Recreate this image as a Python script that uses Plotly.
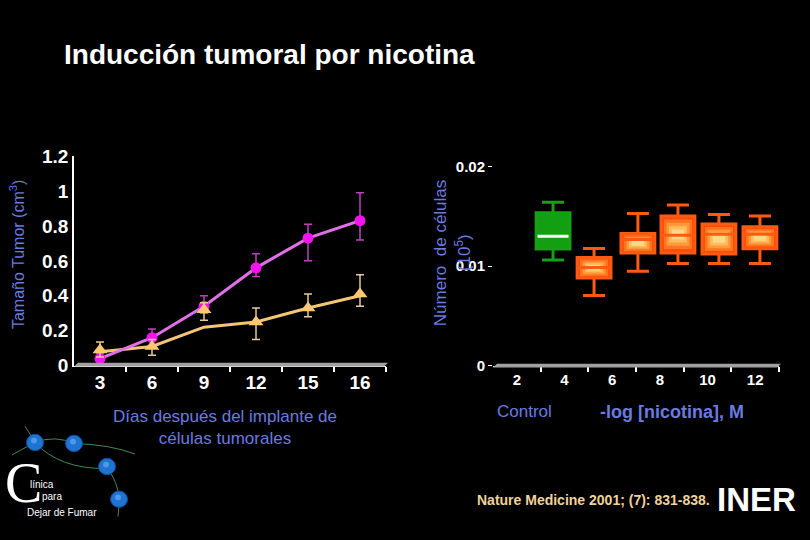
import plotly.graph_objects as go

# ---------------- data ----------------
days = ["3", "6", "9", "12", "15", "16"]
nic_mean = [0.04, 0.16, 0.34, 0.56, 0.73, 0.83]
nic_err_plus = [0.03, 0.05, 0.06, 0.08, 0.08, 0.16]
nic_err_minus = [0.04, 0.05, 0.04, 0.05, 0.13, 0.11]

ctrl_line = [0.08, 0.11, 0.22, 0.25, 0.33, 0.40]
ctrl_mean = [0.09, 0.11, 0.32, 0.25, 0.33, 0.41]
ctrl_err_plus = [0.045, 0.04, 0.04, 0.08, 0.08, 0.11]
ctrl_err_minus = [0.04, 0.05, 0.06, 0.10, 0.05, 0.07]

conc_labels = ["2", "4", "6", "8", "10", "12"]
box_pos = [0.76, 1.62, 2.54, 3.38, 4.24, 5.10]
box_upper = [0.01641, 0.01178, 0.01528, 0.01615, 0.01518, 0.01505]
box_q3 = [0.01537, 0.01087, 0.01327, 0.01505, 0.01424, 0.01395]
box_med = [0.01300, 0.00987, 0.01269, 0.01310, 0.01320, 0.01320]
box_q1 = [0.01172, 0.00880, 0.01133, 0.01133, 0.01123, 0.01175]
box_lower = [0.01061, 0.00706, 0.00948, 0.01026, 0.01026, 0.01026]

W, H = 810, 540


def P(x, y):
    return x / W, 1 - y / H


BLUE = "#6a7be0"
FONT = "Liberation Sans, Arial, sans-serif"

fig = go.Figure()

# ---------------- left chart ----------------
idx = list(range(len(days)))
fig.add_trace(go.Scatter(x=idx, y=ctrl_line, mode="lines",
                         line=dict(color="#f5c474", width=3),
                         xaxis="x", yaxis="y", hoverinfo="skip"))
fig.add_trace(go.Scatter(x=idx, y=nic_mean, mode="lines+markers",
                         line=dict(color="#e070e6", width=3),
                         marker=dict(color="#f414f0", size=11),
                         error_y=dict(type="data", symmetric=False, array=nic_err_plus,
                                      arrayminus=nic_err_minus, color="#b844b8",
                                      thickness=1.5, width=4),
                         xaxis="x", yaxis="y"))
fig.add_trace(go.Scatter(x=idx, y=ctrl_mean, mode="markers",
                         marker=dict(color="#ffc870", size=13, symbol="triangle-up"),
                         error_y=dict(type="data", symmetric=False, array=ctrl_err_plus,
                                      arrayminus=ctrl_err_minus, color="#e8c898",
                                      thickness=1.5, width=4),
                         xaxis="x", yaxis="y"))

# ---------------- right chart (box plots) ----------------
bw = 0.71
orange_layers = [(1.0, "#ff4a0a"), (0.80, "#ff7420"), (0.62, "#ff9a3a"),
                 (0.44, "#ffbc5c"), (0.26, "#ffd886")]
for i, pos in enumerate(box_pos):
    c = (box_q1[i] + box_q3[i]) / 2
    h = (box_q3[i] - box_q1[i]) / 2
    if i == 0:
        layers = [(1.0, "#12a012")]
        edge = "#16a016"
    else:
        layers = orange_layers
        edge = "#ff5a12"
    for f, col in layers:
        lo, hi = c - h * f, c + h * f
        fig.add_trace(go.Box(x=[pos], q1=[lo], median=[c], q3=[hi],
                             lowerfence=[lo], upperfence=[hi],
                             width=bw * (1 - (1 - f) * 0.85), fillcolor=col,
                             line=dict(width=0), boxpoints=False,
                             xaxis="x2", yaxis="y2", hoverinfo="skip"))
    fig.add_trace(go.Box(x=[pos], q1=[box_q1[i]], median=[box_med[i]], q3=[box_q3[i]],
                         lowerfence=[box_lower[i]], upperfence=[box_upper[i]],
                         width=bw, whiskerwidth=0.65, fillcolor="rgba(0,0,0,0)",
                         line=dict(color=edge, width=3), boxpoints=False,
                         xaxis="x2", yaxis="y2"))

# white median for the control box
fig.add_trace(go.Scatter(x=[box_pos[0] - bw / 2 + 0.03, box_pos[0] + bw / 2 - 0.03],
                         y=[box_med[0], box_med[0]], mode="lines",
                         line=dict(color="white", width=3),
                         xaxis="x2", yaxis="y2", hoverinfo="skip"))

tickfont_l = dict(family=FONT, size=19, color="white", weight="bold")
tickfont_r = dict(family=FONT, size=15, color="white", weight="bold")

fig.update_layout(
    width=W, height=H, margin=dict(l=0, r=0, t=0, b=0),
    paper_bgcolor="black", plot_bgcolor="black", showlegend=False,
    boxmode="overlay",
    xaxis=dict(domain=[74 / W, 386 / W], range=[-0.5, 5.5], anchor="y",
               tickmode="array", tickvals=idx, ticktext=days, ticks="",
               minor=dict(tickmode="array", tickvals=[i + 0.5 for i in idx],
                          ticks="outside", ticklen=5, tickcolor="white", tickwidth=1.5),
               showline=True, linecolor="white", linewidth=1,
               showgrid=False, zeroline=False, tickfont=tickfont_l),
    yaxis=dict(domain=[1 - 370 / H, 1 - 152 / H], range=[0, 1.2], dtick=0.2,
               anchor="x", showline=True, linecolor="white", linewidth=1.5,
               ticks="", showgrid=False, zeroline=False, tickfont=tickfont_l),
    xaxis2=dict(domain=[493 / W, 779 / W], range=[-0.5, 5.5], anchor="y2",
                tickmode="array", tickvals=list(range(len(conc_labels))),
                ticktext=conc_labels, ticks="",
                minor=dict(tickmode="array",
                           tickvals=[i + 0.5 for i in range(len(conc_labels))],
                           ticks="outside", ticklen=5, tickcolor="white", tickwidth=1.5),
                showline=True, linecolor="white", linewidth=1,
                showgrid=False, zeroline=False, tickfont=tickfont_r),
    yaxis2=dict(domain=[1 - 370 / H, 1 - 163 / H], range=[0, 0.02], anchor="x2",
                tickmode="array", tickvals=[0, 0.01, 0.02], ticktext=["0", "0.01", "0.02"],
                ticks="outside", ticklen=4, tickcolor="white", showline=False,
                showgrid=False, zeroline=False, tickfont=tickfont_r),
)

# ---------------- decorative shapes ----------------
shapes = []


def path(points, fill=None, color="#a0a0a0", width=0, closed=True):
    s = ""
    for k, (x, y) in enumerate(points):
        px, py = P(x, y)
        s += ("M" if k == 0 else "L") + f"{px:.5f},{py:.5f} "
    if closed:
        s += "Z"
    return dict(type="path", xref="paper", yref="paper", path=s,
                fillcolor=fill, line=dict(color=color, width=width), layer="above")


shapes.append(path([(74, 371), (78, 367), (388, 367), (384, 371)], fill="#a0a0a0"))
shapes.append(path([(493, 372), (497, 368), (781, 368), (777, 372)], fill="#a0a0a0"))


def qpath(p0, c, p1, color="#3d8a5c", width=1):
    a = P(*p0); b = P(*c); d = P(*p1)
    return dict(type="path", xref="paper", yref="paper",
                path=f"M{a[0]:.5f},{a[1]:.5f} Q{b[0]:.5f},{b[1]:.5f} {d[0]:.5f},{d[1]:.5f}",
                line=dict(color=color, width=width), layer="below")


# logo lines
shapes.append(qpath((25, 433), (30, 441), (35, 450)))
shapes.append(qpath((35, 450), (22, 457), (12, 463)))
shapes.append(qpath((35, 450), (55, 442), (74, 451)))
shapes.append(qpath((35, 450), (60, 478), (107, 477)))
shapes.append(qpath((74, 451), (110, 452), (135, 462)))
shapes.append(qpath((107, 477), (118, 490), (119, 509)))
shapes.append(qpath((119, 509), (119, 518), (118, 527)))
# logo balls
for (cx, cy) in [(35, 450), (74, 451), (107, 475), (119, 509)]:
    x0, y0 = P(cx - 8.5, cy + 8.5)
    x1, y1 = P(cx + 8.5, cy - 8.5)
    shapes.append(dict(type="circle", xref="paper", yref="paper", x0=x0, y0=y0, x1=x1, y1=y1,
                       fillcolor="#1f74d2", line=dict(color="#0d4c9e", width=1)))
    x0, y0 = P(cx - 4, cy + 1)
    x1, y1 = P(cx + 2, cy - 5)
    shapes.append(dict(type="circle", xref="paper", yref="paper", x0=x0, y0=y0, x1=x1, y1=y1,
                       fillcolor="#4e9ae8", line=dict(width=0)))
fig.update_layout(shapes=shapes)

# ---------------- texts ----------------
ann = []


def text(t, x, y, size, color="white", xa="center", ya="middle", angle=0, family=FONT, bold=False):
    px, py = P(x, y)
    ann.append(dict(text=t, x=px, y=py, xref="paper", yref="paper", showarrow=False,
                    xanchor=xa, yanchor=ya, textangle=angle,
                    font=dict(family=family, size=size, color=color,
                              weight="bold" if bold else "normal")))


text("Inducción tumoral por nicotina", 62, 46, 28, xa="left", bold=True)
text("Tamaño Tumor (cm<sup>3</sup>)", 17, 255, 16, color=BLUE, angle=-90)
text("Días después del implante de<br>células tumorales", 225, 434, 17, color=BLUE)
text("Número  de células", 440, 253, 17, color=BLUE, angle=-90)
text("(10<sup>5</sup>)", 463, 253, 17, color=BLUE, angle=-90)
text("Control", 524, 418, 17, color=BLUE)
text("-log [nicotina], M", 672, 418, 18, color=BLUE, bold=True)
text("Nature Medicine 2001; (7): 831-838.", 475, 510, 14, color="#f0d29a", xa="left", bold=True)
text("INER", 756, 509, 33, family=FONT, bold=True)
text("C", 23, 492, 56, family="Liberation Serif, DejaVu Serif, serif")
text("línica", 28, 494, 10, xa="left")
text("para", 40, 506, 10, xa="left")
text("Dejar de Fumar", 25, 523, 10, xa="left")
fig.update_layout(annotations=ann)

fig.write_html("out.html")
